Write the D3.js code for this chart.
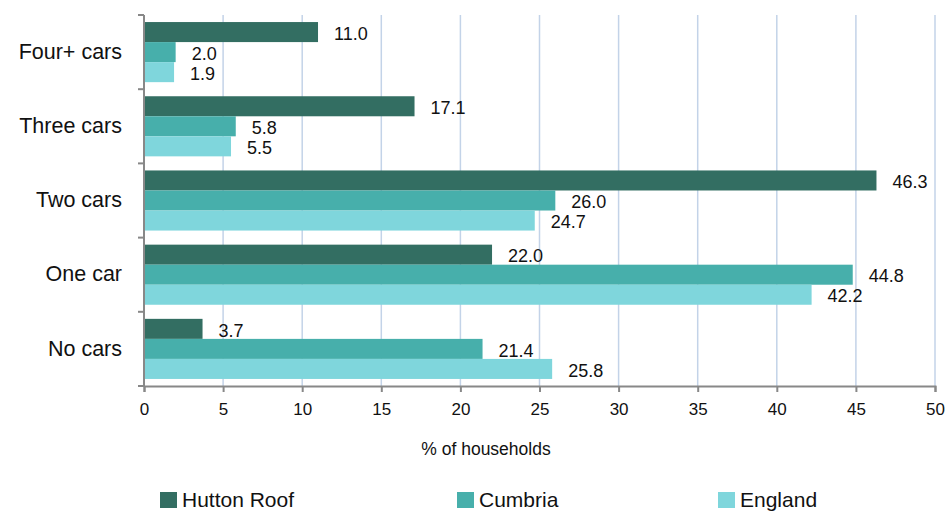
<!DOCTYPE html>
<html>
<head>
<meta charset="utf-8">
<script src="https://cdn.jsdelivr.net/npm/d3@7/dist/d3.min.js"></script>
<style>
  html, body { margin: 0; padding: 0; background: #fff; }
  svg { display: block; font-family: "Liberation Sans", Arial, sans-serif; }
</style>
</head>
<body>
<svg id="chart" width="946" height="514"></svg>
<script>
// Car ownership by household
const categories = ["Four+ cars", "Three cars", "Two cars", "One car", "No cars"];
const seriesNames = ["Hutton Roof", "Cumbria", "England"];
const huttonRoof = [11.0, 17.1, 46.3, 22.0, 3.7];
const cumbria = [2.0, 5.8, 26.0, 44.8, 21.4];
const england = [1.9, 5.5, 24.7, 42.2, 25.8];
const xTicks = [0, 5, 10, 15, 20, 25, 30, 35, 40, 45, 50];
const colors = ["#336e62", "#47afab", "#7fd6dc"];

const seriesValues = [huttonRoof, cumbria, england];
const svg = d3.select("#chart");

const plotLeft = 144, plotRight = 935, plotTop = 15, plotBottom = 386;

const x = d3.scaleLinear().domain([0, 50]).range([plotLeft, plotRight]);
const y = d3.scaleBand().domain(categories).range([plotTop, plotBottom]).paddingInner(0.19).paddingOuter(0.095);
const ySub = d3.scaleBand().domain(seriesNames).range([0, y.bandwidth()]);

// vertical gridlines
svg.append("g").selectAll("line")
  .data(xTicks.filter(t => t > 0))
  .join("line")
  .attr("x1", d => x(d)).attr("x2", d => x(d))
  .attr("y1", plotTop).attr("y2", plotBottom)
  .attr("stroke", "#c3d3e8").attr("stroke-width", 1.5);

// bars with value labels
const groups = svg.append("g").selectAll("g")
  .data(categories)
  .join("g")
  .attr("transform", c => `translate(0,${y(c)})`);

groups.each(function(c, ci) {
  const g = d3.select(this);
  seriesNames.forEach((s, si) => {
    const v = seriesValues[si][ci];
    g.append("rect")
      .attr("x", x(0))
      .attr("y", ySub(s))
      .attr("width", x(v) - x(0))
      .attr("height", ySub.bandwidth())
      .attr("fill", colors[si]);
    g.append("text")
      .attr("x", x(v) + 16)
      .attr("y", ySub(s) + ySub.bandwidth() / 2 + 3)
      .attr("dominant-baseline", "middle")
      .attr("font-size", 18)
      .attr("fill", "#111")
      .text(v.toFixed(1));
  });
});

// x axis
const xAxis = d3.axisBottom(x).tickValues(xTicks).tickSize(6).tickPadding(11).tickFormat(d3.format("d"));
const gx = svg.append("g").attr("transform", `translate(0,${plotBottom})`).call(xAxis);
gx.select(".domain").attr("stroke", "#888").attr("stroke-width", 2);
gx.selectAll(".tick line").attr("stroke", "#888").attr("stroke-width", 2);
gx.selectAll(".tick text").attr("font-size", 17).attr("fill", "#111").attr("font-family", "Liberation Sans, Arial, sans-serif");

// y axis
const yEdges = d3.scaleLinear().domain([0, categories.length]).range([plotTop, plotBottom]);
const gy = svg.append("g");
gy.append("line").attr("x1", plotLeft).attr("x2", plotLeft).attr("y1", plotTop).attr("y2", plotBottom)
  .attr("stroke", "#888").attr("stroke-width", 2);
gy.selectAll("line.tk").data(d3.range(categories.length + 1)).join("line")
  .attr("class", "tk")
  .attr("x1", plotLeft - 6).attr("x2", plotLeft)
  .attr("y1", d => yEdges(d)).attr("y2", d => yEdges(d))
  .attr("stroke", "#888").attr("stroke-width", 2);
gy.selectAll("text").data(categories).join("text")
  .attr("x", 122)
  .attr("y", c => y(c) + y.bandwidth() / 2 + 1)
  .attr("text-anchor", "end")
  .attr("dominant-baseline", "middle")
  .attr("font-size", 21.5)
  .attr("fill", "#111")
  .text(c => c);

// axis title
svg.append("text")
  .attr("x", 486).attr("y", 450)
  .attr("text-anchor", "middle").attr("dominant-baseline", "middle")
  .attr("font-size", 17.5).attr("fill", "#111")
  .text("% of households");

// legend
const legendX = [160, 457, 718];
const lg = svg.append("g").selectAll("g").data(seriesNames).join("g")
  .attr("transform", (d, i) => `translate(${legendX[i]},500)`);
lg.append("rect").attr("x", 0).attr("y", -8).attr("width", 17).attr("height", 16)
  .attr("fill", (d, i) => colors[i]);
lg.append("text").attr("x", 22).attr("y", 1)
  .attr("dominant-baseline", "middle")
  .attr("font-size", 21).attr("fill", "#111")
  .text(d => d);
</script>
</body>
</html>
